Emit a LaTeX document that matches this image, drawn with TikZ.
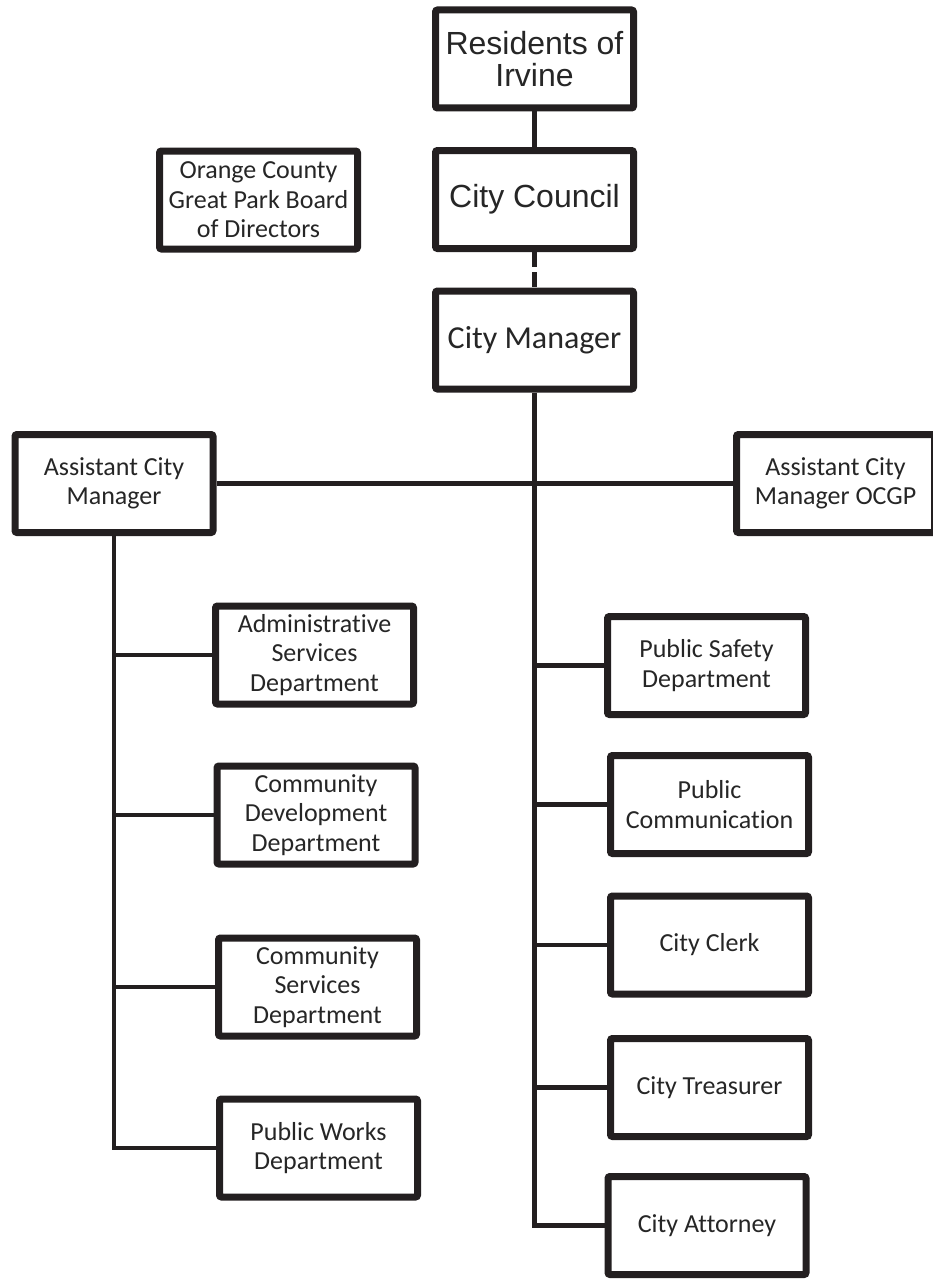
\documentclass[tikz,border=0pt]{standalone}
\usepackage{fontspec}
\setmainfont{Carlito}[Ligatures=NoCommon]
\newfontfamily\arialfont{Liberation Sans}
\usepackage{tikz}
\usetikzlibrary{shadows}
\definecolor{ink}{HTML}{231F20}
\definecolor{txt}{HTML}{262626}
\tikzset{
  box/.style={draw=ink, line width=7pt, fill=white, rounded corners=2pt,
    minimum width=198pt, minimum height=98pt, inner sep=2pt, align=center,
    text=txt, font=\fontsize{26}{29.5}\selectfont,
    drop shadow={shadow xshift=1.5pt, shadow yshift=-2.5pt, opacity=0.3}},
  bigbox/.style={box, font=\arialfont\fontsize{32}{32}\selectfont},
  midbox/.style={box, font=\fontsize{32}{36}\selectfont},
  link/.style={draw=ink, line width=4.5pt},
  dlink/.style={link, dash pattern=on 15pt off 5pt},
}

\begin{document}
\begin{tikzpicture}[x=1pt, y=-1pt]
  \useasboundingbox (0,0) rectangle (932,1279);

  % top of the chart
  \node[bigbox] (res) at (534.5,59) {Residents of\\Irvine};
  \node[bigbox] (council) at (534.5,199.5) {City Council};
  \node[midbox] (mgr) at (534.5,340) {City Manager};
  \node[box] (board) at (258.5,200) {Orange County\\Great Park Board\\of Directors};

  \node[box] (acm) at (114,483.5) {Assistant City\\Manager};
  \node[box] (acmo) at (835.5,483.5) {Assistant City\\Manager OCGP};

  % left column
  \node[box] (admin) at (314.5,655) {Administrative\\Services\\Department};
  \node[box] (cdev) at (316,815) {Community\\Development\\Department};
  \node[box] (csrv) at (317.5,987) {Community\\Services\\Department};
  \node[box] (pwork) at (318.5,1148) {Public Works\\Department};

  % right column
  \node[box] (psafe) at (706.5,665.5) {Public Safety\\Department};
  \node[box] (pcom) at (709.5,804.5) {Public\\Communication};
  \node[box] (clerk) at (709.5,945) {City Clerk};
  \node[box] (treas) at (709.5,1087.5) {City Treasurer};
  \node[box] (atty) at (707,1225.5) {City Attorney};

  \draw[link] (res) -- (council);
  \draw[dlink] (council) -- (mgr);
  \draw[link] (acm) -- (acmo);

  \draw[link] (mgr.south) |- (atty.west);
  \draw[link] (mgr.south |- psafe.west) -- (psafe.west);
  \draw[link] (mgr.south |- pcom.west) -- (pcom.west);
  \draw[link] (mgr.south |- clerk.west) -- (clerk.west);
  \draw[link] (mgr.south |- treas.west) -- (treas.west);

  \draw[link] (acm.south) |- (pwork.west);
  \draw[link] (acm.south |- admin.west) -- (admin.west);
  \draw[link] (acm.south |- cdev.west) -- (cdev.west);
  \draw[link] (acm.south |- csrv.west) -- (csrv.west);
\end{tikzpicture}
\end{document}
